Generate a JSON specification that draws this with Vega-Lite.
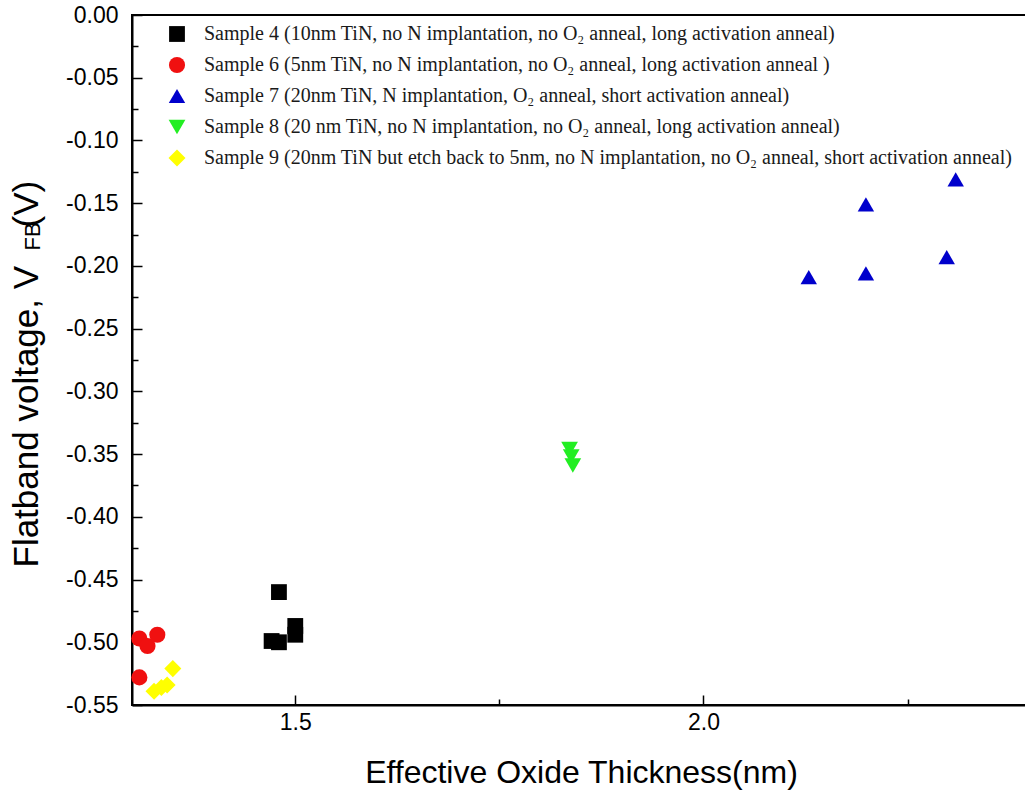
{
  "$schema": "https://vega.github.io/schema/vega-lite/v6.json",
  "width": 898,
  "height": 690,
  "autosize": {"type": "none"},
  "padding": {"left": 132, "top": 15, "right": 0, "bottom": 89},
  "background": "white",
  "config": {
    "view": {"stroke": "black", "strokeWidth": 2},
    "axis": {"grid": false, "domainColor": "black", "domainWidth": 2, "tickColor": "black", "tickWidth": 1.5, "labelColor": "black", "titleColor": "black", "labelFont": "Liberation Sans", "titleFont": "Liberation Sans", "titleFontWeight": "normal", "labelOverlap": false, "labelFlush": false}
  },
  "data": {"values": [
    {"sample": "Sample 4 (10nm TiN, no N implantation, no O₂ anneal, long activation anneal)", "eot": 1.480, "vfb": -0.460},
    {"sample": "Sample 4 (10nm TiN, no N implantation, no O₂ anneal, long activation anneal)", "eot": 1.471, "vfb": -0.499},
    {"sample": "Sample 4 (10nm TiN, no N implantation, no O₂ anneal, long activation anneal)", "eot": 1.480, "vfb": -0.500},
    {"sample": "Sample 4 (10nm TiN, no N implantation, no O₂ anneal, long activation anneal)", "eot": 1.500, "vfb": -0.487},
    {"sample": "Sample 4 (10nm TiN, no N implantation, no O₂ anneal, long activation anneal)", "eot": 1.500, "vfb": -0.494},
    {"sample": "Sample 6 (5nm TiN, no N implantation, no O₂ anneal, long activation anneal )", "eot": 1.309, "vfb": -0.497},
    {"sample": "Sample 6 (5nm TiN, no N implantation, no O₂ anneal, long activation anneal )", "eot": 1.319, "vfb": -0.503},
    {"sample": "Sample 6 (5nm TiN, no N implantation, no O₂ anneal, long activation anneal )", "eot": 1.331, "vfb": -0.494},
    {"sample": "Sample 6 (5nm TiN, no N implantation, no O₂ anneal, long activation anneal )", "eot": 1.309, "vfb": -0.528},
    {"sample": "Sample 7 (20nm TiN, N implantation, O₂ anneal, short activation anneal)", "eot": 2.309, "vfb": -0.131},
    {"sample": "Sample 7 (20nm TiN, N implantation, O₂ anneal, short activation anneal)", "eot": 2.199, "vfb": -0.151},
    {"sample": "Sample 7 (20nm TiN, N implantation, O₂ anneal, short activation anneal)", "eot": 2.129, "vfb": -0.209},
    {"sample": "Sample 7 (20nm TiN, N implantation, O₂ anneal, short activation anneal)", "eot": 2.199, "vfb": -0.206},
    {"sample": "Sample 7 (20nm TiN, N implantation, O₂ anneal, short activation anneal)", "eot": 2.298, "vfb": -0.193},
    {"sample": "Sample 8 (20 nm TiN, no N implantation, no O₂ anneal, long activation anneal)", "eot": 1.836, "vfb": -0.346},
    {"sample": "Sample 8 (20 nm TiN, no N implantation, no O₂ anneal, long activation anneal)", "eot": 1.838, "vfb": -0.352},
    {"sample": "Sample 8 (20 nm TiN, no N implantation, no O₂ anneal, long activation anneal)", "eot": 1.840, "vfb": -0.359},
    {"sample": "Sample 9 (20nm TiN but etch back to 5nm, no N implantation, no O₂ anneal, short activation anneal)", "eot": 1.350, "vfb": -0.521},
    {"sample": "Sample 9 (20nm TiN but etch back to 5nm, no N implantation, no O₂ anneal, short activation anneal)", "eot": 1.327, "vfb": -0.539},
    {"sample": "Sample 9 (20nm TiN but etch back to 5nm, no N implantation, no O₂ anneal, short activation anneal)", "eot": 1.336, "vfb": -0.536},
    {"sample": "Sample 9 (20nm TiN but etch back to 5nm, no N implantation, no O₂ anneal, short activation anneal)", "eot": 1.343, "vfb": -0.534}
  ]},
  "layer": [
    {
      "mark": {"type": "point", "filled": true, "opacity": 1},
      "encoding": {
        "x": {"field": "eot", "type": "quantitative", "scale": {"domain": [1.3, 2.4], "nice": false, "zero": false},
          "axis": {"orient": "bottom", "values": [1.5, 1.75, 2.0, 2.25], "labelExpr": "datum.value == 1.5 || datum.value == 2 ? format(datum.value, '.1f') : ''",
            "tickSize": {"condition": {"test": "datum.value == 1.5 || datum.value == 2", "value": -10}, "value": -6},
            "labelPadding": 16, "labelFontSize": 23, "title": "Effective Oxide Thickness(nm)", "titleFontSize": 32, "titlePadding": 19}},
        "y": {"field": "vfb", "type": "quantitative", "scale": {"domain": [-0.55, 0], "nice": false, "zero": false},
          "axis": {"orient": "left", "values": [-0.55, -0.525, -0.5, -0.475, -0.45, -0.425, -0.4, -0.375, -0.35, -0.325, -0.3, -0.275, -0.25, -0.225, -0.2, -0.175, -0.15, -0.125, -0.1, -0.075, -0.05, -0.025, 0],
            "labelExpr": "abs(datum.value*20 - round(datum.value*20)) < 0.001 ? replace(format(datum.value, '.2f'), '−', '-') : ''",
            "tickSize": {"condition": {"test": "abs(datum.value*20 - round(datum.value*20)) < 0.001", "value": -10}, "value": -6},
            "labelPadding": 24, "labelFontSize": 23,
            "title": "Flatband voltage, V", "titleFontSize": 35, "titleAngle": -90, "titleAlign": "left", "titleBaseline": "middle", "titleX": -106, "titleY": 552}},
        "color": {"field": "sample", "type": "nominal",
          "scale": {"domain": [
            "Sample 4 (10nm TiN, no N implantation, no O₂ anneal, long activation anneal)",
            "Sample 6 (5nm TiN, no N implantation, no O₂ anneal, long activation anneal )",
            "Sample 7 (20nm TiN, N implantation, O₂ anneal, short activation anneal)",
            "Sample 8 (20 nm TiN, no N implantation, no O₂ anneal, long activation anneal)",
            "Sample 9 (20nm TiN but etch back to 5nm, no N implantation, no O₂ anneal, short activation anneal)"],
            "range": ["#000000", "#f01010", "#0000cc", "#22ee22", "#ffff00"]},
          "legend": {"title": null, "orient": "none", "legendX": 35, "legendY": 9, "padding": 0, "labelFont": "Liberation Serif", "labelFontSize": 20, "labelColor": "#1a1a1a", "labelLimit": 0, "labelOffset": 17, "rowPadding": 11, "symbolStrokeWidth": 0}},
        "shape": {"field": "sample", "type": "nominal",
          "scale": {"domain": [
            "Sample 4 (10nm TiN, no N implantation, no O₂ anneal, long activation anneal)",
            "Sample 6 (5nm TiN, no N implantation, no O₂ anneal, long activation anneal )",
            "Sample 7 (20nm TiN, N implantation, O₂ anneal, short activation anneal)",
            "Sample 8 (20 nm TiN, no N implantation, no O₂ anneal, long activation anneal)",
            "Sample 9 (20nm TiN but etch back to 5nm, no N implantation, no O₂ anneal, short activation anneal)"],
            "range": ["square", "circle", "triangle-up", "triangle-down", "diamond"]}},
        "size": {"field": "sample", "type": "nominal",
          "scale": {"domain": [
            "Sample 4 (10nm TiN, no N implantation, no O₂ anneal, long activation anneal)",
            "Sample 6 (5nm TiN, no N implantation, no O₂ anneal, long activation anneal )",
            "Sample 7 (20nm TiN, N implantation, O₂ anneal, short activation anneal)",
            "Sample 8 (20 nm TiN, no N implantation, no O₂ anneal, long activation anneal)",
            "Sample 9 (20nm TiN but etch back to 5nm, no N implantation, no O₂ anneal, short activation anneal)"],
            "range": [250, 290, 380, 380, 300]}}
      }
    },
    {
      "mark": {"type": "point", "opacity": 0},
      "encoding": {
        "x": {"field": "eot", "type": "quantitative", "axis": null},
        "y": {"field": "vfb", "type": "quantitative",
          "axis": {"orient": "right", "domain": false, "ticks": false, "labels": false, "title": "FB", "titleFontSize": 22, "titleAngle": -90, "titleAlign": "left", "titleBaseline": "middle", "titleX": -998, "titleY": 235}}
      }
    },
    {
      "mark": {"type": "point", "opacity": 0},
      "encoding": {
        "y": {"field": "vfb", "type": "quantitative", "axis": null},
        "x": {"field": "eot", "type": "quantitative",
          "axis": {"orient": "top", "domain": false, "ticks": false, "labels": false, "title": "(V)", "titleFontSize": 35, "titleAngle": -90, "titleAlign": "left", "titleBaseline": "middle", "titleX": -106, "titleY": 212}}
      }
    }
  ],
  "resolve": {"axis": {"x": "independent", "y": "independent"}}
}
